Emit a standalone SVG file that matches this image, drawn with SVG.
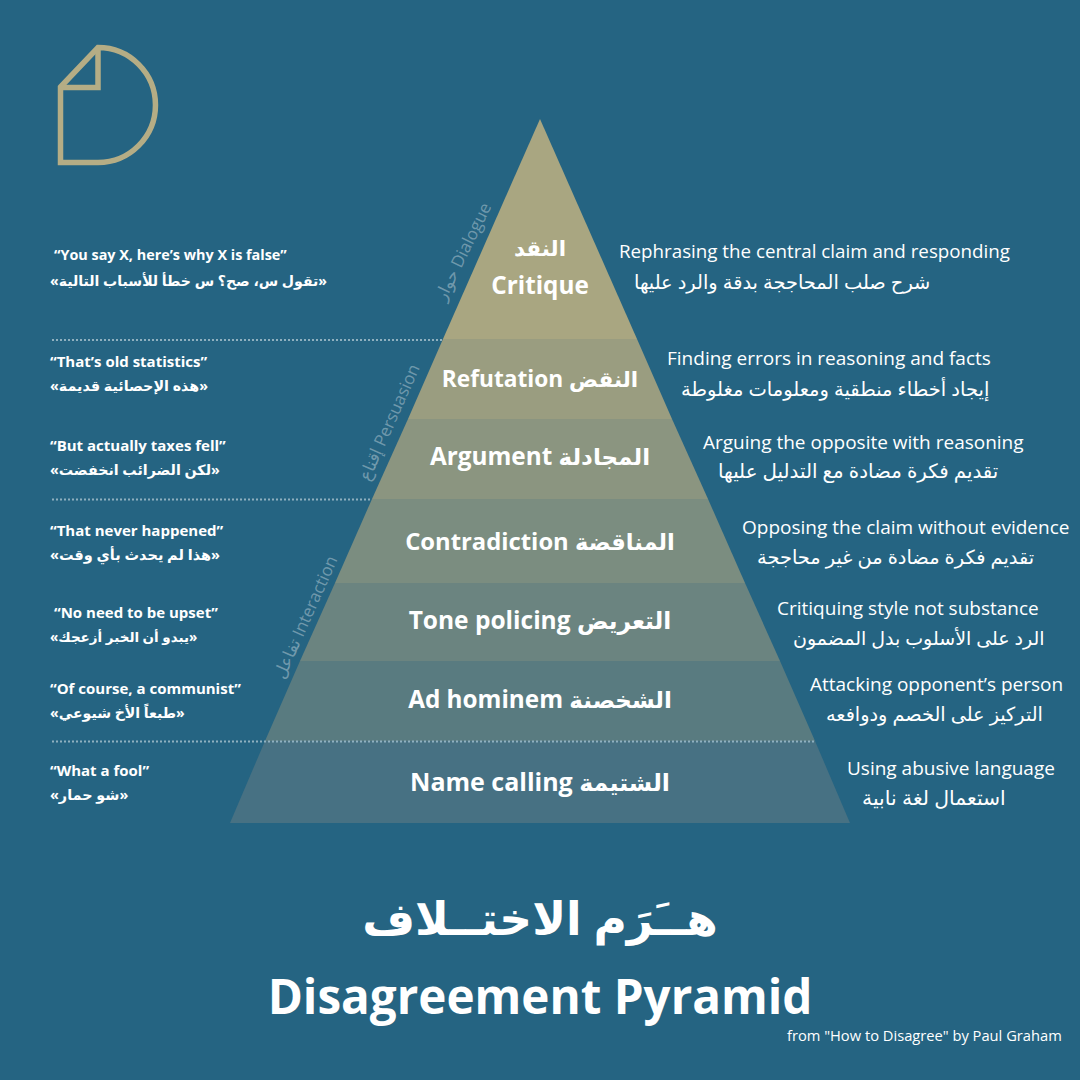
<svg xmlns="http://www.w3.org/2000/svg" width="1080" height="1080" viewBox="0 0 1080 1080">
<style>
text{font-family:"Open Sans","Noto Sans","DejaVu Sans",sans-serif;fill:#fff}
.q{font-size:15px;font-weight:700}
.qa{font-size:14px;font-weight:700}
.t{font-size:24.300px;font-weight:700;text-anchor:middle}
.ta{font-size:23px}
.d{font-size:19px}
.da{font-size:19.400px}
.s{font-size:17px;fill:#fff;fill-opacity:.35}
.dot{stroke:#8fb0bf;stroke-width:2;stroke-dasharray:2 2;fill:none}
</style>
<rect width="1080" height="1080" fill="#256482"/>
<g id="logo" fill="none" stroke="#b5ad85" stroke-width="5.500">
<path d="M60.500 87 L98 47.500 A57.500 57.500 0 0 1 98 162.500 L60.500 162.500 Z"/>
<path d="M98 47.500 V87.500 H60.500"/>
</g>
<g id="pyramid">
<g id="lvl-critique"><polygon points="540,119 637,339 443,339" fill="#a9a681"/><text class="t" x="540" y="256"><tspan class="ta" style="font-size:21.500px">النقد</tspan></text><text class="t" x="540" y="294">Critique</text></g>
<g id="lvl-refutation"><polygon points="443,339 637,339 672,419 408,419" fill="#9a9d80"/><text class="t" x="540" y="387" style="font-size:22.700px">Refutation <tspan class="ta" style="font-size:21.500px">النقض</tspan></text></g>
<g id="lvl-argument"><polygon points="408,419 672,419 708,499 372,499" fill="#8b9580"/><text class="t" x="540" y="465">Argument <tspan class="ta">المجادلة</tspan></text></g>
<g id="lvl-contradiction"><polygon points="372,499 708,499 745,583 335,583" fill="#7b8d80"/><text class="t" x="540" y="550" style="font-size:23.800px">Contradiction <tspan class="ta" style="font-size:22.600px">المناقضة</tspan></text></g>
<g id="lvl-tone"><polygon points="335,583 745,583 780,661 300,661" fill="#6b8480"/><text class="t" x="540" y="629" style="font-size:24.500px">Tone policing <tspan class="ta" style="font-size:23.300px">التعريض</tspan></text></g>
<g id="lvl-adhominem"><polygon points="300,661 780,661 815,741 265,741" fill="#597b80"/><text class="t" x="540" y="708">Ad hominem <tspan class="ta">الشخصنة</tspan></text></g>
<g id="lvl-name"><polygon points="265,741 815,741 850,823 230,823" fill="#477183"/><text class="t" x="540" y="791" style="font-size:25px">Name calling <tspan class="ta" style="font-size:23.700px">الشتيمة</tspan></text></g>
</g>
<g id="connectors">
<path class="dot" d="M52 340H443M52 499.500H372M52 741.500H815"/>
</g>
<g id="groups">
<text class="s" transform="translate(445,302) rotate(-64)">حوار Dialogue</text>
<text class="s" transform="translate(369,482) rotate(-66)">إقناع Persuasion</text>
<text class="s" transform="translate(284,680) rotate(-66)">تفاعل Interaction</text>
</g>
<g id="quotes">
<text class="q" x="54" y="260" style="font-size:14.400px">“You say X, here’s why X is false”</text><text class="qa" x="50" y="286" style="font-size:14.100px">«تقول س، صح؟ س خطأ للأسباب التالية»</text>
<text class="q" x="50" y="367">“That’s old statistics”</text><text class="qa" x="50" y="391" style="font-size:14.300px">«هذه الإحصائية قديمة»</text>
<text class="q" x="50" y="451">“But actually taxes fell”</text><text class="qa" x="50" y="475" style="font-size:14.250px">«لكن الضرائب انخفضت»</text>
<text class="q" x="50" y="536">“That never happened”</text><text class="qa" x="50" y="560" style="font-size:14.500px">«هذا لم يحدث بأي وقت»</text>
<text class="q" x="54" y="618">“No need to be upset”</text><text class="qa" x="50" y="642" style="font-size:13.500px">«يبدو أن الخبر أزعجك»</text>
<text class="q" x="50" y="694">“Of course, a communist”</text><text class="qa" x="50" y="718" style="font-size:14.100px">«طبعاً الأخ شيوعي»</text>
<text class="q" x="50" y="776">“What a fool”</text><text class="qa" x="50" y="800" style="font-size:14.400px">«شو حمار»</text>
</g>
<g id="descriptions">
<text class="d" x="619" y="258" style="font-size:18.750px">Rephrasing the central claim and responding</text><text class="da" x="634" y="289">شرح صلب المحاججة بدقة والرد عليها</text>
<text class="d" x="667" y="365">Finding errors in reasoning and facts</text><text class="da" x="681" y="396" style="font-size:19.500px">إيجاد أخطاء منطقية ومعلومات مغلوطة</text>
<text class="d" x="703" y="449">Arguing the opposite with reasoning</text><text class="da" x="718" y="478" style="font-size:19.800px">تقديم فكرة مضادة مع التدليل عليها</text>
<text class="d" x="742" y="534">Opposing the claim without evidence</text><text class="da" x="757" y="564">تقديم فكرة مضادة من غير محاججة</text>
<text class="d" x="777" y="615">Critiquing style not substance</text><text class="da" x="793" y="645" style="font-size:19px">الرد على الأسلوب بدل المضمون</text>
<text class="d" x="810" y="691">Attacking opponent’s person</text><text class="da" x="826" y="721" style="font-size:19.300px">التركيز على الخصم ودوافعه</text>
<text class="d" x="847" y="775">Using abusive language</text><text class="da" x="862" y="805" style="font-size:20.400px">استعمال لغة نابية</text>
</g>
<g id="title">
<text x="540" y="935" font-size="45.500" font-weight="700" text-anchor="middle">هــَرَم الاختــلاف</text>
<text x="540" y="1014" font-size="47.600" font-weight="700" text-anchor="middle">Disagreement Pyramid</text>
<text x="787" y="1041" font-size="14.700">from "How to Disagree" by Paul Graham</text>
</g>
</svg>
